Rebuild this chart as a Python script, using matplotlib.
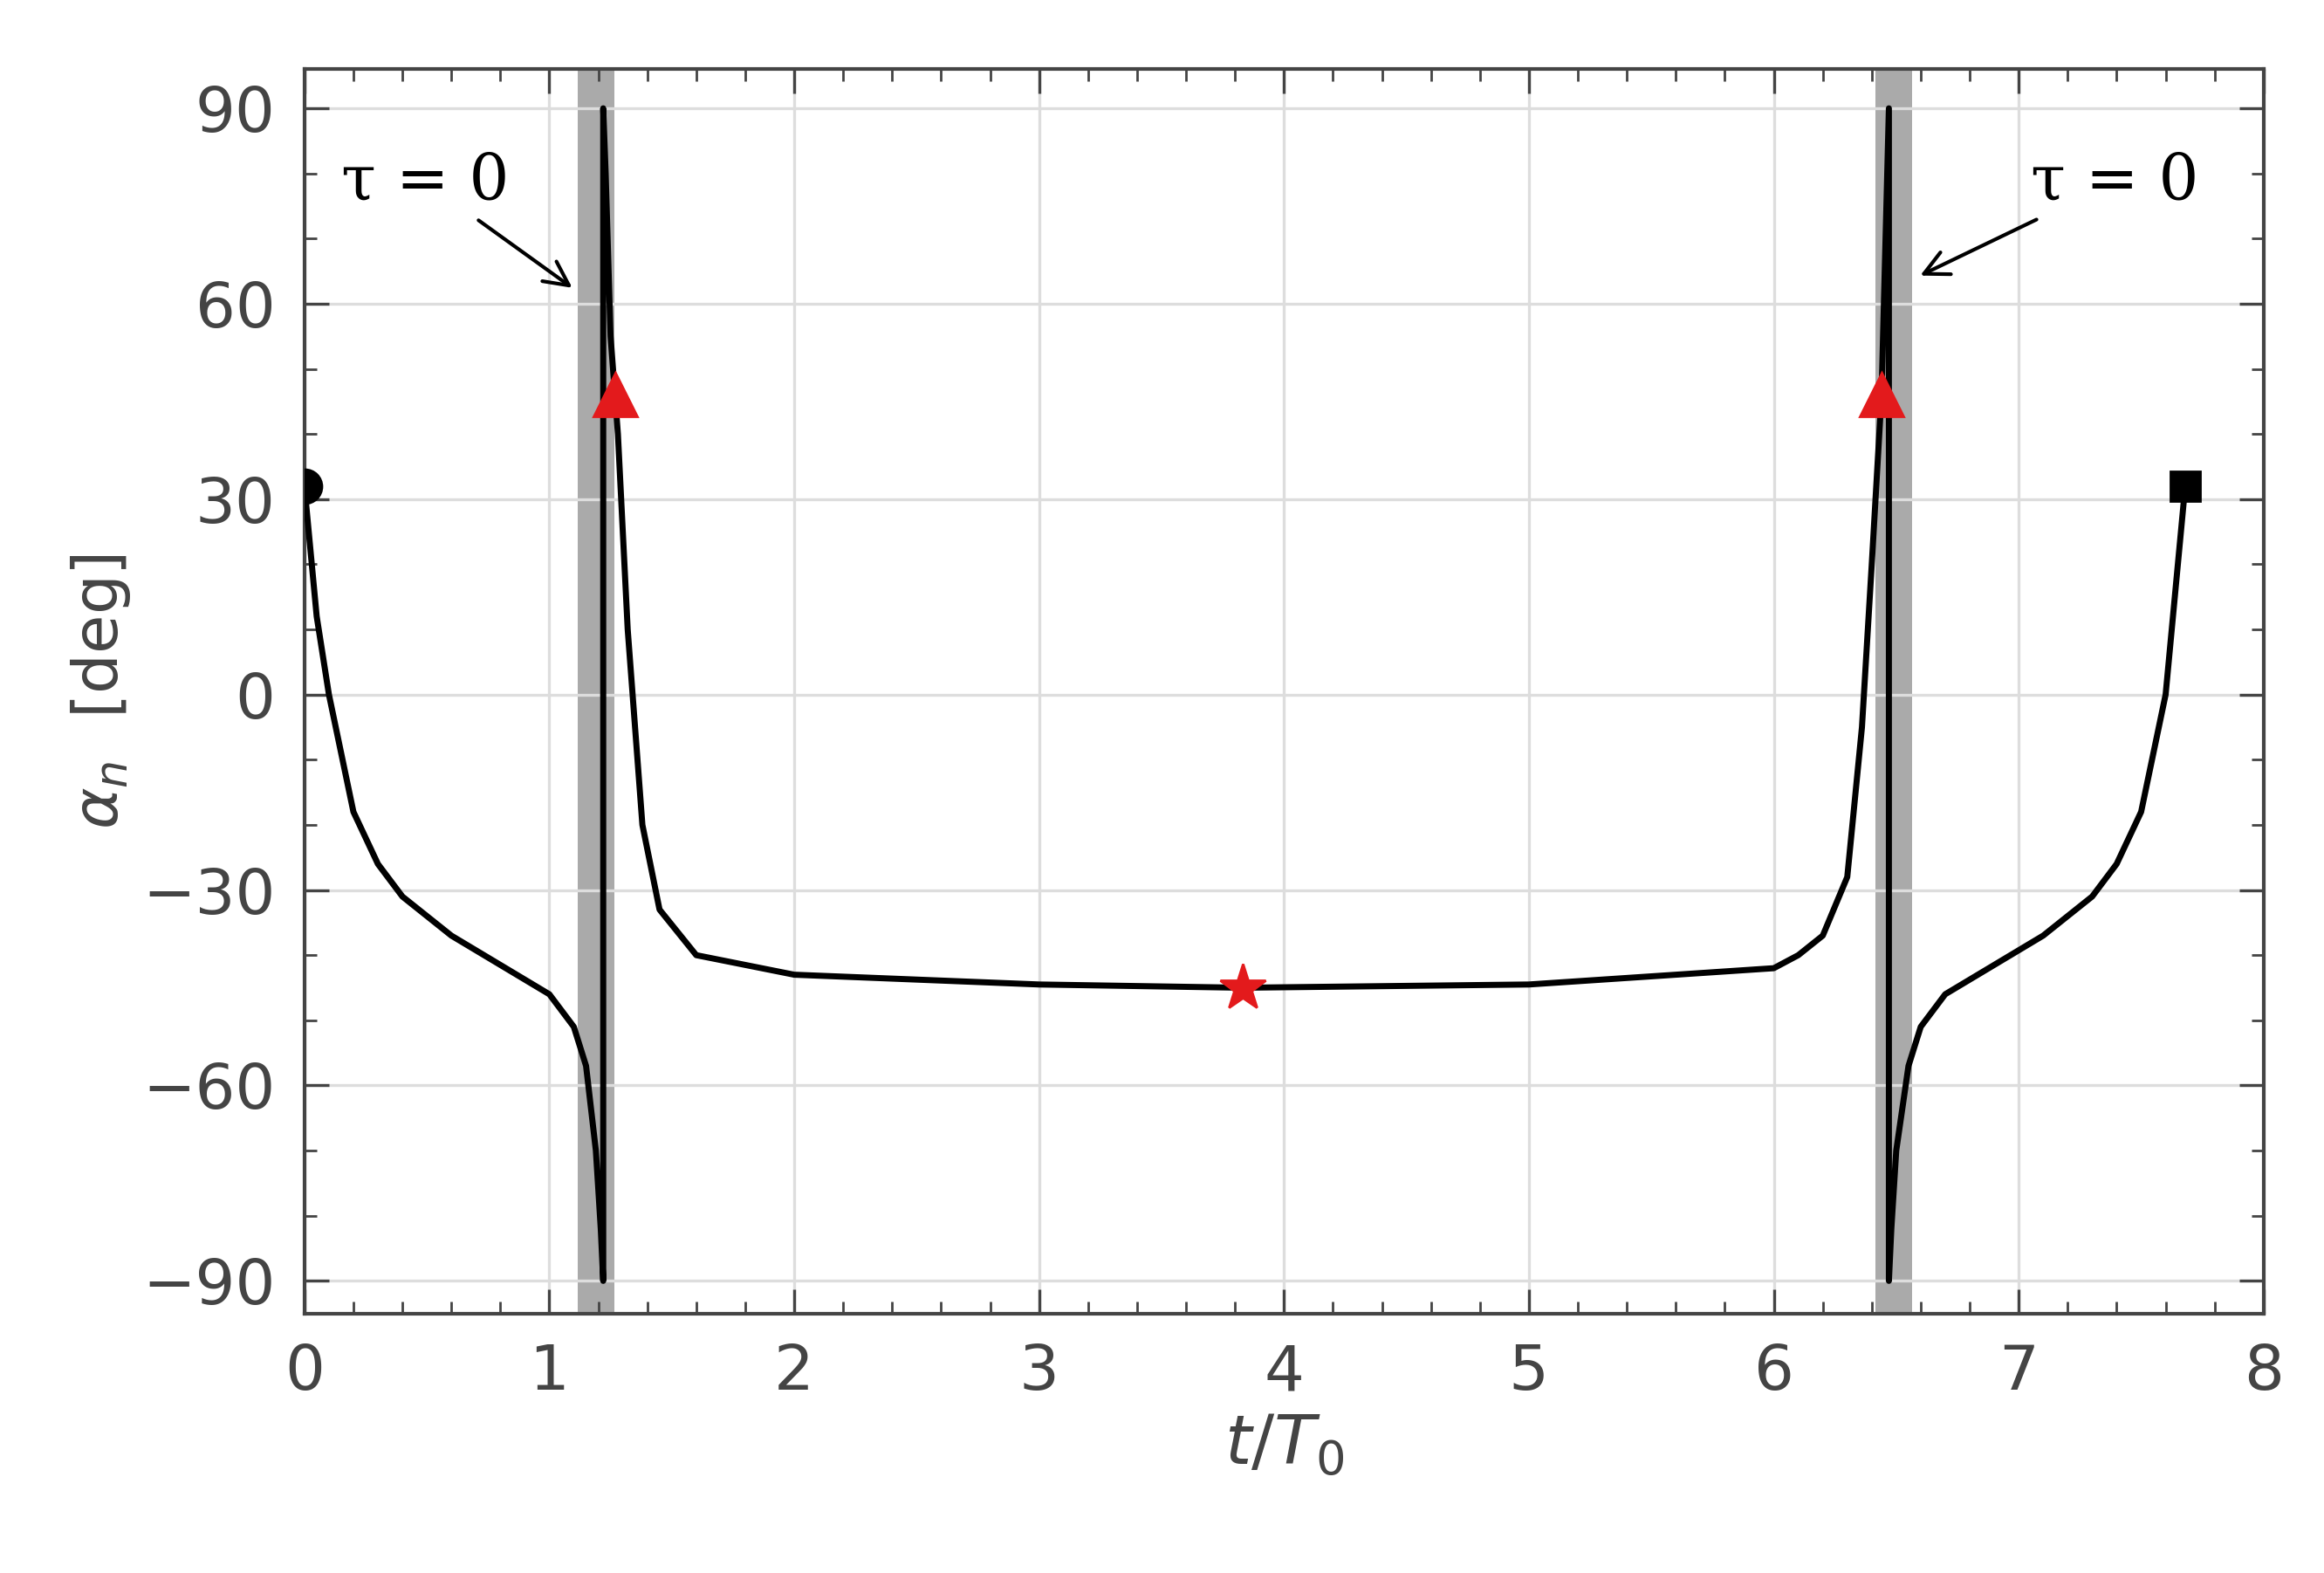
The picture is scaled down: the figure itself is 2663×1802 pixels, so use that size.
import matplotlib
matplotlib.use("Agg")
import matplotlib.pyplot as plt
from matplotlib.ticker import MultipleLocator

t_vals = [0.0, 0.05, 0.1, 0.2, 0.3, 0.4, 0.6, 0.8, 1.0, 1.1, 1.15, 1.19, 1.21, 1.22,
          1.22, 1.23, 1.25, 1.28, 1.32, 1.38, 1.45, 1.6, 2.0, 3.0, 3.83, 5.0, 6.0, 6.1,
          6.2, 6.3, 6.36, 6.4, 6.44, 6.47, 6.47, 6.48, 6.5, 6.55, 6.6, 6.7, 6.9, 7.1,
          7.3, 7.4, 7.5, 7.6, 7.68]
a_vals = [32, 12, 0, -18, -26, -31, -37, -41.5, -46, -51, -57, -70, -82, -90,
          90, 80, 55, 40, 10, -20, -33, -40, -43, -44.5, -45, -44.5, -42, -40,
          -37, -28, -5, 20, 46, 90, -90, -82, -70, -57, -51, -46, -41.5, -37,
          -31, -26, -18, 0, 32]
bands = [(1.115, 1.265), (6.415, 6.565)]
spikes = [1.22, 6.47]
tri_t, tri_a = [1.27, 6.44], [46, 46]

fig = plt.figure(figsize=(13.315, 9.01), dpi=200)
ax = fig.add_axes([0.131, 0.165, 0.843, 0.791])
for a, b in bands:
    ax.axvspan(a, b, color="#aaaaaa", zorder=1, lw=0)
ax.plot(t_vals, a_vals, color="black", lw=2.5, zorder=3)
ax.plot([0], [32], "o", color="black", ms=14, zorder=4)
ax.plot([7.68], [32], "s", color="black", ms=12, zorder=4)
ax.plot(tri_t, tri_a, "^", color="#e31a1c", ms=18, zorder=5)
ax.plot([3.83], [-45], "*", color="#e31a1c", ms=20, zorder=5)

ax.set_xlim(0, 8)
ax.set_ylim(-95, 96)
ax.xaxis.set_major_locator(MultipleLocator(1))
ax.xaxis.set_minor_locator(MultipleLocator(0.2))
ax.set_yticks([-90, -60, -30, 0, 30, 60, 90])
ax.yaxis.set_minor_locator(MultipleLocator(10))
ax.grid(True, which="major", color="#dddddd", lw=1.2, zorder=0)
ax.tick_params(which="both", direction="in", top=True, right=True, color="#444444")
ax.tick_params(which="major", length=10, width=1.2, labelsize=26, labelcolor="#444444", pad=12)
ax.tick_params(which="minor", length=5, width=1)
for s in ax.spines.values():
    s.set_color("#444444"); s.set_linewidth(1.5)
ax.set_xlabel(r"$t/T_0$", fontsize=28, color="#444444")
ax.set_ylabel(r"$\alpha_n$  [deg]", fontsize=26, color="#444444")

ax.annotate("τ = 0", xy=(1.11, 62), xytext=(0.15, 76), fontsize=26, family="serif",
            arrowprops=dict(arrowstyle="->", color="black", lw=1.5, mutation_scale=25))
ax.annotate("τ = 0", xy=(6.58, 64), xytext=(7.05, 76), fontsize=26, family="serif",
            arrowprops=dict(arrowstyle="->", color="black", lw=1.5, mutation_scale=25))
fig.savefig("out.png", dpi=200)
